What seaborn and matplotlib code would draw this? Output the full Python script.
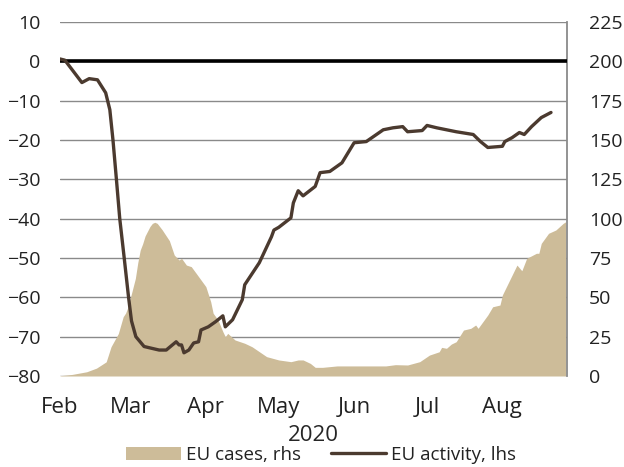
import pandas as pd
import seaborn as sns
import matplotlib.pyplot as plt
from matplotlib.patches import Patch
from matplotlib.lines import Line2D

# EU activity (lhs)
activity_dates = ['2020-02-01', '2020-02-03', '2020-02-10', '2020-02-13', '2020-02-16 10:00',
                  '2020-02-19 19:00', '2020-02-21 12:00', '2020-02-22 19:00', '2020-02-24 05:00',
                  '2020-02-25 14:00', '2020-02-27 10:00', '2020-02-29 05:00', '2020-03-01 10:00',
                  '2020-03-03 05:00', '2020-03-06 14:00', '2020-03-10', '2020-03-12 19:00',
                  '2020-03-15 17:00',
                  '2020-03-19 19:00', '2020-03-21', '2020-03-22', '2020-03-23', '2020-03-25',
                  '2020-03-27', '2020-03-29', '2020-03-30', '2020-04-02', '2020-04-05',
                  '2020-04-08', '2020-04-09', '2020-04-12', '2020-04-16', '2020-04-17',
                  '2020-04-23', '2020-04-28', '2020-04-29', '2020-05-01', '2020-05-06',
                  '2020-05-07', '2020-05-09', '2020-05-11', '2020-05-16', '2020-05-18',
                  '2020-05-22', '2020-05-27', '2020-06-01', '2020-06-06', '2020-06-13',
                  '2020-06-17', '2020-06-21', '2020-06-23', '2020-06-29', '2020-07-01',
                  '2020-07-05', '2020-07-13', '2020-07-20', '2020-07-23', '2020-07-26',
                  '2020-08-01', '2020-08-02', '2020-08-05', '2020-08-08', '2020-08-10',
                  '2020-08-13', '2020-08-17', '2020-08-21']
activity_values = [0.6, 0.3, -5.4, -4.4, -4.7,
                   -8, -12.3, -20, -30,
                   -40, -50, -60, -66,
                   -70, -72.5, -73, -73.4,
                   -73.4,
                   -71.3, -72.1, -72.1, -74.1, -73.4,
                   -71.6, -71.3, -68.3, -67.5, -66.2,
                   -64.7, -67.5, -65.7, -60.6, -56.8,
                   -51.2, -44.6, -42.9, -42.2, -39.8,
                   -36, -32.9, -34.2, -31.8, -28.3,
                   -28, -25.8, -20.7, -20.4, -17.4,
                   -16.9, -16.6, -17.9, -17.6, -16.3,
                   -16.9, -17.9, -18.6, -20.4, -21.9,
                   -21.6, -20.4, -19.4, -18.1, -18.6,
                   -16.6, -14.3, -13.0]

# EU cases (rhs)
cases_dates = ['2020-02-01', '2020-02-06', '2020-02-12', '2020-02-16', '2020-02-20',
               '2020-02-22', '2020-02-25', '2020-02-27', '2020-02-28', '2020-02-29',
               '2020-03-01', '2020-03-02', '2020-03-03', '2020-03-04', '2020-03-05',
               '2020-03-06', '2020-03-07', '2020-03-08', '2020-03-09', '2020-03-10',
               '2020-03-11', '2020-03-12', '2020-03-14', '2020-03-17', '2020-03-19',
               '2020-03-21', '2020-03-22', '2020-03-24', '2020-03-26', '2020-03-28',
               '2020-04-01', '2020-04-03', '2020-04-04', '2020-04-06', '2020-04-08',
               '2020-04-09', '2020-04-10', '2020-04-13', '2020-04-17', '2020-04-20',
               '2020-04-22', '2020-04-26', '2020-05-01', '2020-05-06', '2020-05-09',
               '2020-05-11', '2020-05-14', '2020-05-16', '2020-05-19', '2020-05-25',
               '2020-06-05', '2020-06-14', '2020-06-18', '2020-06-23', '2020-06-28',
               '2020-07-02', '2020-07-06', '2020-07-07', '2020-07-09', '2020-07-11',
               '2020-07-13', '2020-07-16', '2020-07-19', '2020-07-21', '2020-07-22',
               '2020-07-26', '2020-07-28', '2020-07-31', '2020-08-01', '2020-08-04',
               '2020-08-07', '2020-08-09', '2020-08-11', '2020-08-15', '2020-08-16',
               '2020-08-17', '2020-08-20', '2020-08-23', '2020-08-26', '2020-08-27']
cases_values = [0.2, 1.0, 2.7, 5, 9,
                18.6, 27, 37.7, 40, 44,
                50, 56, 62, 72, 80,
                84, 89, 92, 95, 97,
                97.7, 97, 93, 86, 76.9,
                73.7, 74.8, 70.5, 69.5, 65.3,
                56.8, 47.2, 39.9, 35.6, 28.2,
                25, 27.1, 22.9, 20.8, 18.6,
                16.5, 12.3, 10.2, 9.1, 10.2,
                10.2, 8, 5.5, 5.5, 6.4,
                6.4, 6.4, 7.2, 7, 9.1,
                13.3, 15.4, 18.2, 17.6, 20.3,
                21.8, 29.2, 30.3, 32.4, 30.3,
                38.8, 44, 45.1, 51.5, 61,
                70.5, 66.9, 74.8, 78, 78,
                84.3, 90.7, 92.8, 97, 98]

left_ticks = list(range(-80, 11, 10))
right_ticks = list(range(0, 226, 25))
month_ticks = ['2020-02-01', '2020-03-01', '2020-04-01', '2020-05-01',
               '2020-06-01', '2020-07-01', '2020-08-01']
month_labels = ['Feb', 'Mar', 'Apr', 'May', 'Jun', 'Jul', 'Aug']

activity = pd.DataFrame({'date': pd.to_datetime(activity_dates, format='ISO8601'),
                         'value': activity_values})
cases = pd.DataFrame({'date': pd.to_datetime(cases_dates, format='ISO8601'),
                      'value': cases_values})

sns.set_theme(style='white')
plt.rcParams['font.family'] = ['Open Sans', 'DejaVu Sans']
plt.rcParams['text.color'] = '#222222'

area_color = '#cdbc99'
line_color = '#4b3a2f'
grid_color = '#8a8a8a'

fig = plt.figure(figsize=(6.24, 4.67), dpi=100)
ax = fig.add_axes([60 / 624, 1 - 376 / 467, 507 / 624, 354 / 467])
ax2 = ax.twinx()
ax.set_zorder(ax2.get_zorder() + 1)
ax.patch.set_visible(False)

# cases area on the right axis, behind
ax2.fill_between(cases['date'], 0, cases['value'], color=area_color, linewidth=0, zorder=2)
ax2.set_ylim(0, 225)
ax2.set_yticks(right_ticks)
ax2.yaxis.grid(True, color=grid_color, linewidth=1.0)
ax2.set_axisbelow(True)

# activity line on the left axis
ax.axhline(0, color='black', linewidth=2.6, zorder=1)
sns.lineplot(data=activity, x='date', y='value', ax=ax, color=line_color, linewidth=2.4,
             zorder=3, solid_joinstyle='round', solid_capstyle='round')
ax.set_ylim(-80, 10)
ax.set_yticks(left_ticks)

ax.set_xlim(pd.Timestamp('2020-02-01'), pd.Timestamp('2020-08-27 14:00'))
ax.set_xticks(pd.to_datetime(month_ticks))
ax.set_xticklabels(month_labels)
ax.set_xlabel('2020', fontsize=16, labelpad=5)
ax.set_ylabel('')
ax2.set_ylabel('')

ax.tick_params(axis='y', length=0, labelsize=14, pad=14, labelcolor='#222222')
ax.tick_params(axis='x', length=0, labelsize=16, pad=15, labelcolor='#222222')
ax2.tick_params(axis='y', length=0, labelsize=14, pad=16, labelcolor='#222222')

for a in (ax, ax2):
    for s in a.spines.values():
        s.set_visible(False)
ax2.spines['right'].set_visible(True)
ax2.spines['right'].set_color(grid_color)
ax2.spines['right'].set_linewidth(1.3)

handles = [Patch(facecolor=area_color, edgecolor='none'),
           Line2D([], [], color=line_color, linewidth=2.4)]
fig.legend(handles, ['EU cases, rhs', 'EU activity, lhs'], loc='center',
           bbox_to_anchor=(0.515, 0.026), ncol=2, frameon=False, fontsize=13.5,
           handlelength=2.9, handletextpad=0.3, columnspacing=1.6)

fig.savefig('out.png', dpi=100)
